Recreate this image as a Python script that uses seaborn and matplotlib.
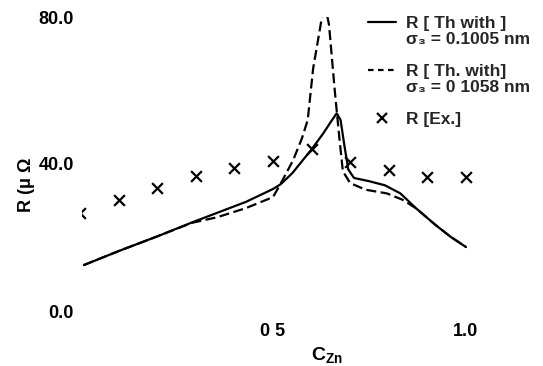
import numpy as np
import pandas as pd
import matplotlib
matplotlib.use("Agg")
import matplotlib.pyplot as plt
from matplotlib.lines import Line2D
import seaborn as sns

# theory curves (C_Zn, R in micro-ohm cm)
sol_x = [0.01, 0.1, 0.2, 0.3, 0.355, 0.43, 0.5, 0.52, 0.55, 0.6, 0.63, 0.65, 0.665, 0.675,
         0.685, 0.695, 0.71, 0.75, 0.79, 0.83, 0.87, 0.92, 0.96, 1.0]
sol_y = [12.5, 16.3, 20.3, 24.5, 26.7, 29.7, 33.2, 34.5, 37.5, 44.0, 48.3, 51.5, 53.8, 52.0,
         45.0, 38.5, 36.2, 35.3, 34.2, 32.0, 28.0, 23.5, 20.2, 17.4]
dash_x = [0.01, 0.1, 0.2, 0.29, 0.355, 0.43, 0.5, 0.518, 0.552, 0.575, 0.59, 0.604, 0.622,
          0.633, 0.645, 0.66, 0.672, 0.681, 0.70, 0.74, 0.795, 0.835, 0.87, 0.92, 0.96, 1.0]
dash_y = [12.5, 16.3, 20.3, 24.0, 25.5, 28.0, 31.0, 34.3, 41.0, 47.0, 52.0, 66.0, 77.0,
          84.0, 78.0, 60.0, 47.0, 38.0, 34.8, 33.0, 32.0, 30.3, 28.0, 23.5, 20.2, 17.4]
# experiment
exp_x = [0.0, 0.1, 0.2, 0.3, 0.4, 0.5, 0.6, 0.7, 0.8, 0.9, 1.0]
exp_y = [26.7, 30.2, 33.5, 36.7, 38.9, 40.8, 44.1, 40.5, 38.4, 36.5, 36.5]

x_ticks = [0.5, 1.0]
x_ticklabels = ["0 5", "1.0"]
y_ticks = [0, 40, 80]
y_ticklabels = ["0.0", "40.0", "80.0"]

sns.set_theme(style="white")
plt.rcParams["font.family"] = ["Liberation Sans", "DejaVu Sans"]
plt.rcParams["font.weight"] = "bold"
plt.rcParams["axes.labelweight"] = "bold"
plt.rcParams["mathtext.fontset"] = "custom"
plt.rcParams["mathtext.rm"] = "Liberation Sans:bold"
plt.rcParams["mathtext.default"] = "rm"

df = pd.concat([
    pd.DataFrame({"C": sol_x, "R": sol_y, "curve": "a"}),
    pd.DataFrame({"C": dash_x, "R": dash_y, "curve": "b"}),
], ignore_index=True)

x0, x1 = 0.006, 1.03
fig = plt.figure(figsize=(5.43, 3.66), dpi=100)
ax = fig.add_axes([(80 + x0 * 386) / 543, 55 / 366, (x1 - x0) * 386 / 543, 294 / 366])

sns.lineplot(data=df, x="C", y="R", style="curve", dashes={"a": "", "b": (4.5, 2)},
             color="black", linewidth=1.6, estimator=None, sort=False, legend=False, ax=ax)
sns.scatterplot(x=exp_x, y=exp_y, marker="x", s=60, color="black", linewidth=1.6, ax=ax)

ax.set_xlim(x0, x1)
ax.set_ylim(0, 80)
for s in ax.spines.values():
    s.set_visible(False)
ax.set_xticks(x_ticks)
ax.set_xticklabels(x_ticklabels)
ax.set_yticks(y_ticks)
ax.set_yticklabels(y_ticklabels)
ax.tick_params(axis="both", length=0, labelsize=13, colors="black")
ax.tick_params(axis="x", pad=9)
ax.tick_params(axis="y", pad=6)

ax.set_xlabel("C$_{Zn}$", fontsize=14, color="black")
ax.xaxis.set_label_coords(0.62, -0.115)
ax.set_ylabel("R (μ Ω", fontsize=13, color="black")
ax.yaxis.set_label_coords(-0.12, 0.43)

blank = Line2D([], [], linestyle="none")
handles = [
    Line2D([], [], color="black", linewidth=1.6),
    blank,
    blank,
    Line2D([], [], color="black", linewidth=1.6, dashes=(2.5, 2)),
    blank,
    blank,
    Line2D([], [], linestyle="none", marker="x", markersize=7, markeredgewidth=1.6, color="black"),
]
labels = ["R [ Th with ]", "σ₃ = 0.1005 nm", " ",
          "R [ Th. with]", "σ₃ = 0 1058 nm", " ",
          "R [Ex.]"]
leg = ax.legend(handles, labels, loc="upper left", bbox_to_anchor=(368 / 543, 1 - 16 / 366),
                bbox_transform=fig.transFigure, frameon=False, borderpad=0, borderaxespad=0,
                handlelength=1.6, handletextpad=0.6, labelspacing=0.05, fontsize=12.5)

fig.savefig("out.png", dpi=100)
